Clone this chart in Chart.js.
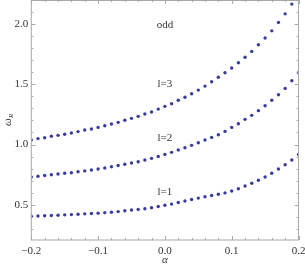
<!DOCTYPE html>
<html>
<head>
<meta charset="utf-8">
<script src="https://cdn.jsdelivr.net/npm/chart.js@4/dist/chart.umd.min.js"></script>
<style>
  html, body { margin: 0; padding: 0; background: #fff; }
  #wrap { width: 305px; height: 271px; }
</style>
</head>
<body>
<div id="wrap"><canvas id="myChart" width="305" height="271"></canvas></div>
<script>
//the data
const alphas = []
for (let i = -20; i <= 20; i++) alphas.push(i / 100)

const odd1 = [0.404, 0.406, 0.408, 0.411, 0.413, 0.416, 0.418, 0.421, 0.424, 0.427,
              0.430, 0.434, 0.438, 0.443, 0.450, 0.456, 0.461, 0.467, 0.475, 0.485,
              0.495, 0.505, 0.518, 0.531, 0.543, 0.555, 0.566, 0.577, 0.587, 0.598,
              0.614, 0.633, 0.655, 0.678, 0.703, 0.730, 0.761, 0.796, 0.832, 0.871, 0.918]

const odd2 = [0.730, 0.736, 0.743, 0.749, 0.755, 0.761, 0.766, 0.774, 0.781, 0.788,
              0.796, 0.805, 0.815, 0.826, 0.836, 0.846, 0.857, 0.871, 0.885, 0.901,
              0.918, 0.935, 0.954, 0.973, 0.993, 1.015, 1.037, 1.059, 1.081, 1.109,
              1.142, 1.172, 1.209, 1.242, 1.281, 1.322, 1.367, 1.413, 1.466, 1.529, 1.596]

const odd3 = [1.037, 1.049, 1.056, 1.068, 1.076, 1.085, 1.096, 1.107, 1.120, 1.129,
              1.142, 1.156, 1.170, 1.184, 1.202, 1.217, 1.234, 1.253, 1.270, 1.294,
              1.317, 1.338, 1.367, 1.392, 1.421, 1.452, 1.485, 1.521, 1.558, 1.596,
              1.635, 1.679, 1.724, 1.773, 1.828, 1.884, 1.944, 2.014, 2.085, 2.166, 2.25]

const xTicks = [-0.2, -0.1, 0.0, 0.1, 0.2]
const yTicks = [0.5, 1.0, 1.5, 2.0]

//labels inside the plot (data coordinates)
const noteText = ['odd', 'l=3', 'l=2', 'l=1']
const noteX = [0.0, 0.0, 0.0, 0.0]
const noteY = [1.99, 1.5, 1.054, 0.605]

const dotColor = '#3b3b9e'
const frameColor = '#a8a8a8'
const textColor = '#333333'
const serif = "'Liberation Serif', 'Times New Roman', Times, serif"

function pts(vals) {
    return vals.map((v, i) => ({ x: alphas[i], y: v }))
}

function ds(vals) {
    return {
        data: pts(vals),
        showLine: false,
        pointRadius: 1.7,
        pointBorderWidth: 0,
        pointBackgroundColor: dotColor,
        pointBorderColor: dotColor
    }
}

//frame, inward ticks, texts
const framePlugin = {
    id: 'frame',
    afterDatasetsDraw(chart) {
        const c = chart.ctx
        const a = chart.chartArea
        const xs = chart.scales.x
        const ys = chart.scales.y
        c.save()
        c.strokeStyle = frameColor
        c.lineWidth = 1
        c.strokeRect(a.left, a.top + 0.5, a.right - a.left, a.bottom - a.top - 0.5)

        c.beginPath()
        for (let i = -20; i <= 20; i += 2) {
            const v = i / 100
            const px = Math.round(xs.getPixelForValue(v)) + 0.5
            const len = (i % 10 === 0) ? 4 : 2
            c.moveTo(px, a.bottom); c.lineTo(px, a.bottom - len)
            c.moveTo(px, a.top); c.lineTo(px, a.top + len)
        }
        for (let i = 3; i <= 22; i++) {
            const v = i / 10
            const py = Math.round(ys.getPixelForValue(v)) + 0.5
            const len = (i % 5 === 0) ? 4 : 2
            c.moveTo(a.left, py); c.lineTo(a.left + len, py)
            c.moveTo(a.right, py); c.lineTo(a.right - len, py)
        }
        c.stroke()

        //notes
        c.fillStyle = textColor
        c.font = '11px ' + serif
        c.textAlign = 'center'
        c.textBaseline = 'middle'
        noteText.forEach((t, i) => {
            c.fillText(t, xs.getPixelForValue(noteX[i]), ys.getPixelForValue(noteY[i]))
        })

        //y title omega_R
        c.translate(8, (a.top + a.bottom) / 2)
        c.rotate(-Math.PI / 2)
        c.textAlign = 'left'
        c.font = 'italic 11px ' + serif
        const w = c.measureText('ω').width
        c.fillText('ω', -(w + 4) / 2, 0)
        c.font = 'italic 7px ' + serif
        c.fillText('R', -(w + 4) / 2 + w, 3)
        c.restore()
    }
}

const ctx = document.getElementById('myChart').getContext('2d')

var chart = new Chart(ctx, {

    type: 'scatter',

    data: {
        datasets: [ds(odd1), ds(odd2), ds(odd3)]
    },

    options: {
        responsive: false,
        animation: false,
        layout: { autoPadding: false, padding: { top: 0, right: 6.5, left: 0, bottom: 0 } },
        plugins: {
            legend: { display: false },
            tooltip: { enabled: false }
        },
        scales: {
            x: {
                type: 'linear',
                min: -0.2,
                max: 0.2,
                afterFit: (s) => { s.height = 31; s.paddingLeft = 0; s.paddingRight = 0 },
                afterBuildTicks: (s) => { s.ticks = xTicks.map(v => ({ value: v })) },
                grid: { display: false, drawTicks: false },
                border: { display: false },
                ticks: {
                    color: textColor,
                    font: { family: serif, size: 11 },
                    padding: 5,
                    maxRotation: 0,
                    callback: (v) => (v < 0 ? '\u2212' : '') + Math.abs(v).toFixed(1)
                },
                title: {
                    display: true,
                    text: 'α',
                    color: textColor,
                    font: { family: serif, size: 11, style: 'italic' },
                    padding: { top: 0, bottom: 4 }
                }
            },
            y: {
                type: 'linear',
                min: 0.207,
                max: 2.2,
                afterFit: (s) => { s.width = 31.3; s.paddingTop = 0; s.paddingBottom = 0 },
                afterBuildTicks: (s) => { s.ticks = yTicks.map(v => ({ value: v })) },
                grid: { display: false, drawTicks: false },
                border: { display: false },
                ticks: {
                    color: textColor,
                    font: { family: serif, size: 11 },
                    padding: 3,
                    callback: (v) => v.toFixed(1)
                }
            }
        }
    },

    plugins: [framePlugin]

});
</script>
</body>
</html>
